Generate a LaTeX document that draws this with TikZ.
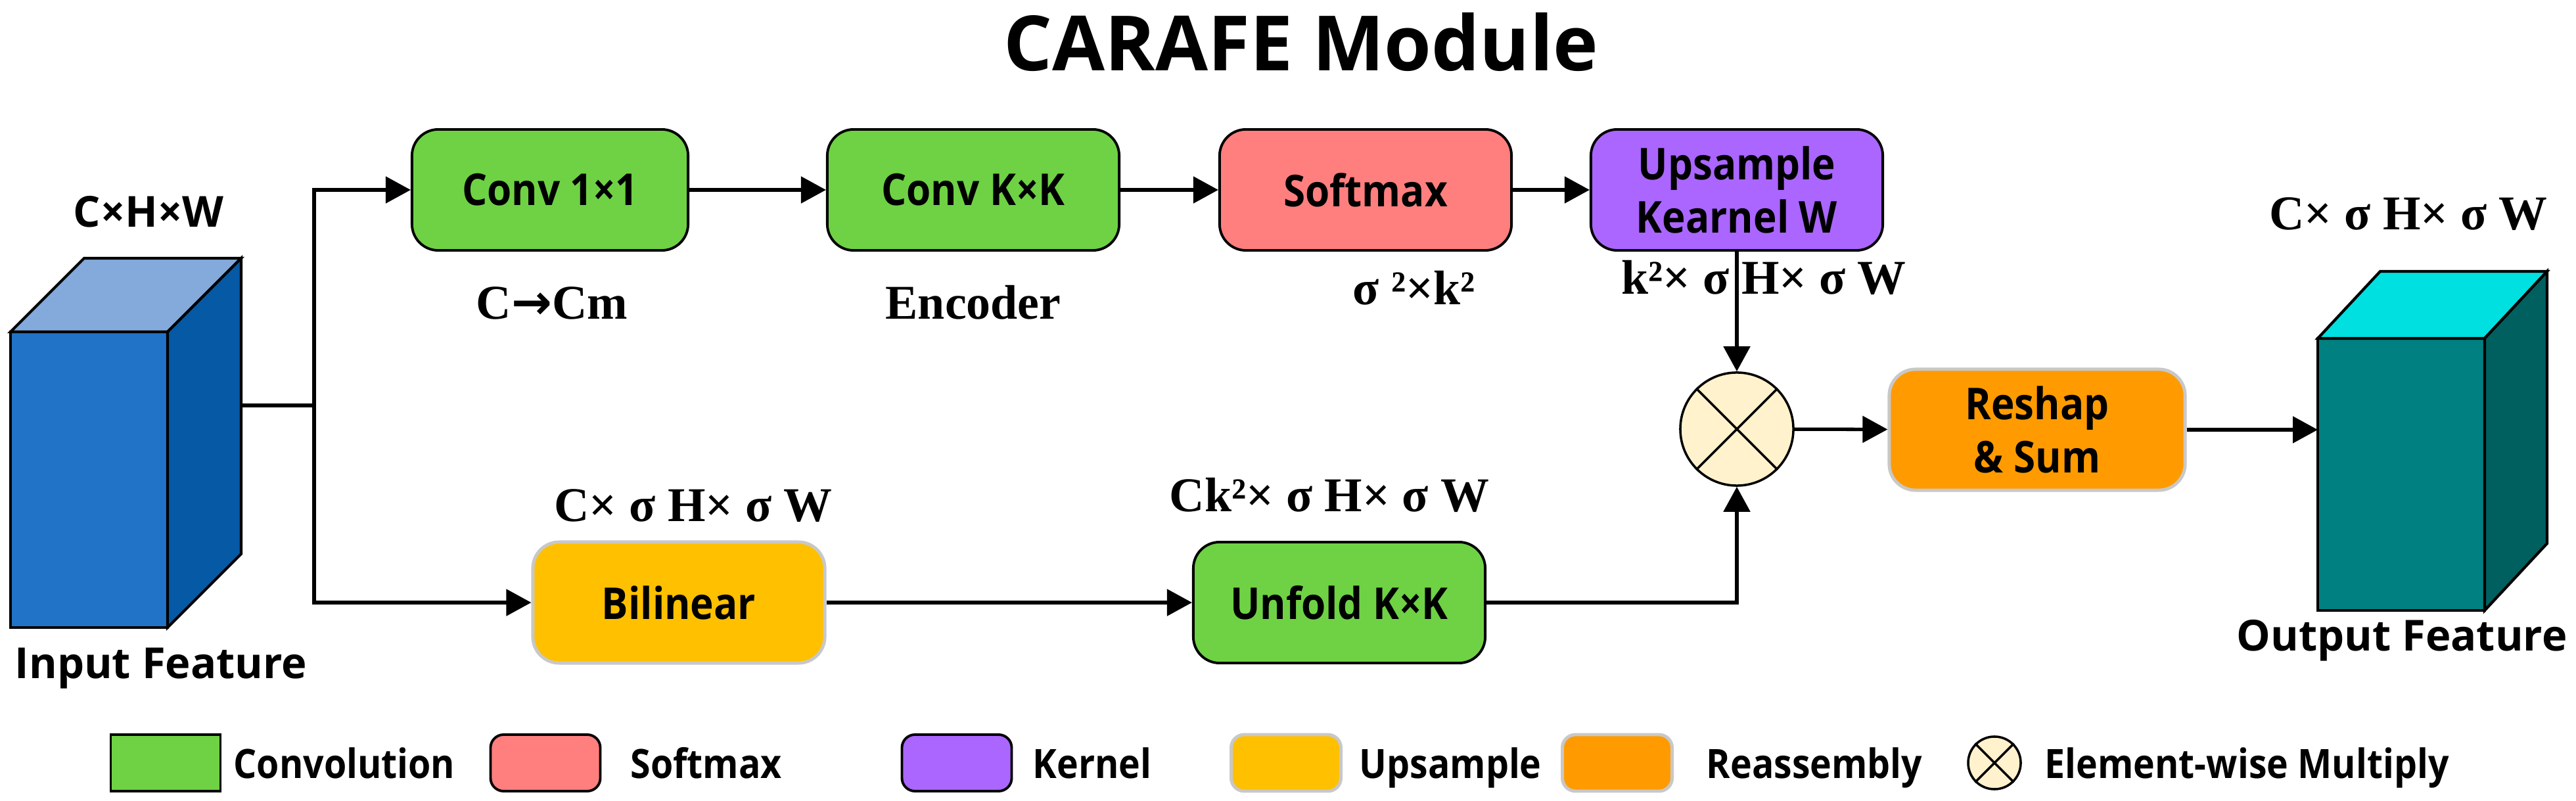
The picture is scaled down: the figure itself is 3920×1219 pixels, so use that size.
\documentclass[tikz,border=0pt]{standalone}
\usepackage{fontspec}
\setmainfont{Liberation Serif}
\newfontfamily\osans{Open Sans}
\newfontfamily\osanscond{Open Sans}[FakeStretch=0.9]
\newfontfamily\djv{DejaVu Sans}
\usetikzlibrary{arrows.meta,calc}
\definecolor{inTop}{RGB}{131,170,219}
\definecolor{inFront}{RGB}{33,115,199}
\definecolor{inSide}{RGB}{5,89,165}
\definecolor{outTop}{RGB}{0,224,224}
\definecolor{outFront}{RGB}{0,128,128}
\definecolor{outSide}{RGB}{0,96,96}
\definecolor{cgreen}{RGB}{110,210,68}
\definecolor{cpink}{RGB}{255,127,127}
\definecolor{cpurple}{RGB}{170,102,255}
\definecolor{cyellow}{RGB}{255,192,0}
\definecolor{corange}{RGB}{255,155,0}
\definecolor{ccream}{RGB}{255,242,204}
\definecolor{lgray}{RGB}{200,200,200}
\newcommand\titlefnt{\osans\bfseries\fontsize{33}{38}\selectfont}
\newcommand\boxfnt{\osanscond\bfseries\fontsize{19}{23}\selectfont}
\newcommand\cubefnt{\osans\bfseries\fontsize{18.5}{22}\selectfont}
\newcommand\dimfnt{\bfseries\fontsize{21}{25}\selectfont}
\newcommand\legfnt{\osanscond\bfseries\fontsize{17.5}{20}\selectfont}
\begin{document}
\begin{tikzpicture}[x=0.01cm,y=-0.01cm,
  box/.style={draw=black, line width=1.1pt, rounded corners=0.4cm, minimum width=4.44cm, minimum height=1.84cm, font=\boxfnt, align=center, inner sep=0pt},
  graybox/.style={box, draw=lgray, line width=1.4pt},
  conn/.style={line width=1.5pt, -{Triangle[length=0.38cm,width=0.4cm]}},
  plainline/.style={line width=1.5pt},
  dimlab/.style={font=\dimfnt, anchor=base, inner sep=0pt},
  cubelab/.style={font=\cubefnt, anchor=base, inner sep=0pt},
  face/.style={draw=black, line width=1.2pt, line join=miter},
  legbox/.style={draw=black, line width=1.1pt, rounded corners=0.2cm, minimum width=1.67cm, minimum height=0.86cm, inner sep=0pt},
  leggray/.style={legbox, draw=lgray, line width=1.4pt},
  legtext/.style={font=\legfnt, anchor=base west, inner sep=0pt}
]
\useasboundingbox (0,0) rectangle (3920,1219);

% title
\node[font=\titlefnt, anchor=base, inner sep=0pt] (title) at (1980,108) {CARAFE Module};

% input cube
\filldraw[face, fill=inFront] (16,505) rectangle (255,955);
\filldraw[face, fill=inTop] (16,505) -- (128,393) -- (367,393) -- (255,505) -- cycle;
\filldraw[face, fill=inSide] (255,505) -- (367,393) -- (367,843) -- (255,955) -- cycle;
\coordinate (inR) at (367,617);
\coordinate (j) at (478,617);
\node[cubelab] (chw) at (226,346) {C×H×W};
\node[cubelab] (inlab) at (245,1032) {Input Feature};

% output cube
\filldraw[face, fill=outFront] (3527,515) rectangle (3781,929);
\filldraw[face, fill=outTop] (3527,515) -- (3622,413) -- (3876,413) -- (3781,515) -- cycle;
\filldraw[face, fill=outSide] (3781,515) -- (3876,413) -- (3876,827) -- (3781,929) -- cycle;
\coordinate (outL) at (3527,654);
\node[cubelab] (outlab) at (3655,991) {Output Feature};
\node[dimlab] (outdim) at (3665,350) {C× σ H× σ W};

% top row
\node[box, fill=cgreen, minimum width=4.2cm] (conv1) at (837,289) {Conv 1×1};
\node[box, fill=cgreen] (convk) at (1481,289) {Conv K×K};
\node[box, fill=cpink] (soft) at (2078,289) {Softmax};
\node[box, fill=cpurple] (ups) at (2643,289) {Upsample\\Kearnel W};

\node[dimlab] (l1) at (840,486) {C{\djv\bfseries →}Cm};
\node[dimlab] (l2) at (1481,486) {Encoder};
\node[dimlab] (l3) at (2152,464) {σ ²×k²};
\node[dimlab] (l4) at (2684,448) {k²× σ H× σ W};

% bottom row
\node[graybox, fill=cyellow] (bil) at (1033,917) {Bilinear};
\node[box, fill=cgreen] (unf) at (2038,917) {Unfold K×K};
\node[dimlab] (l5) at (1055,794) {C× σ H× σ W};
\node[dimlab] (l6) at (2023,779) {Ck²× σ H× σ W};

% multiply and reshape
\node[circle, draw=black, line width=1pt, fill=ccream, minimum size=1.72cm, inner sep=0pt] (mul) at (2643,653) {};
\draw[line width=1pt] (mul.north west) -- (mul.south east);
\draw[line width=1pt] (mul.north east) -- (mul.south west);
\node[graybox, fill=corange, minimum width=4.5cm] (resh) at (3100,654) {Reshap\\\& Sum};

% connectors
\draw[plainline] (inR) -- (j);
\draw[conn] (j) |- (conv1.west);
\draw[conn] (j) |- (bil.west);
\draw[conn] (conv1) -- (convk);
\draw[conn] (convk) -- (soft);
\draw[conn] (soft) -- (ups);
\draw[conn] (ups.south) -- (mul.north);
\draw[conn] (bil) -- (unf);
\draw[conn] (unf.east) -| (mul.south);
\draw[conn] (mul) -- (resh);
\draw[conn] (resh.east) -- (outL);

% legend
\node[legbox, rounded corners=0pt, fill=cgreen] (lg1) at (252,1161) {};
\node[legtext] (lt1) at (355,1184) {Convolution};
\node[legbox, fill=cpink] (lg2) at (830,1161) {};
\node[legtext] (lt2) at (959,1184) {Softmax};
\node[legbox, fill=cpurple] (lg3) at (1456,1161) {};
\node[legtext] (lt3) at (1571,1184) {Kernel};
\node[leggray, fill=cyellow] (lg4) at (1957,1161) {};
\node[legtext] (lt4) at (2068,1184) {Upsample};
\node[leggray, fill=corange] (lg5) at (2461,1161) {};
\node[legtext] (lt5) at (2596,1184) {Reassembly};
\node[circle, draw=black, line width=1pt, fill=ccream, minimum size=0.8cm, inner sep=0pt] (lg6) at (3035,1161) {};
\draw[line width=1pt] (lg6.north west) -- (lg6.south east);
\draw[line width=1pt] (lg6.north east) -- (lg6.south west);
\node[legtext] (lt6) at (3111,1184) {Element-wise Multiply};
\end{tikzpicture}
\end{document}
